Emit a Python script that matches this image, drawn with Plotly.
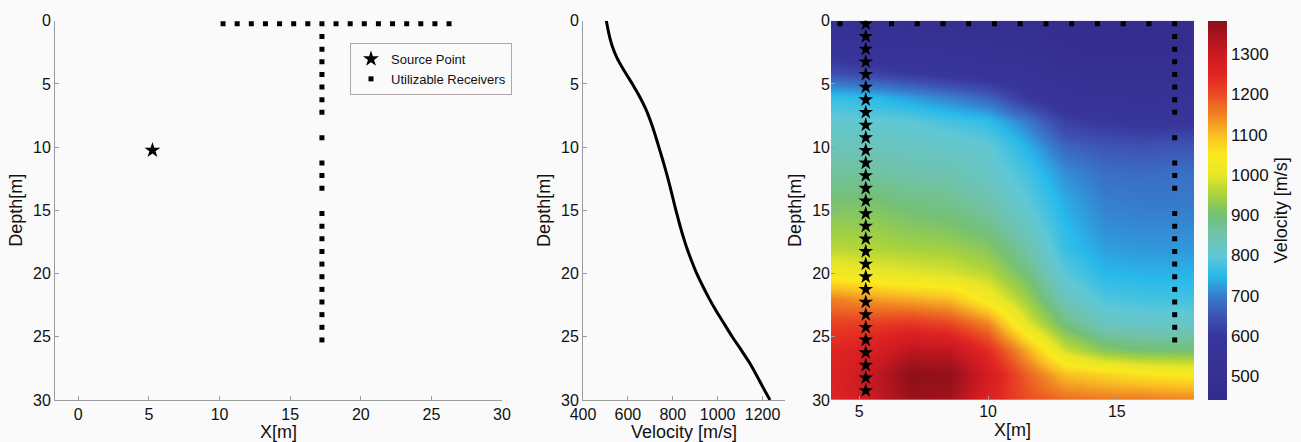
import plotly.graph_objects as go

# ---- acquisition geometry (metres) ----
source_x = [5.25]
source_depth = [10.25]

row_receiver_x = [10.25, 11.25, 12.25, 13.25, 14.25, 15.25, 16.25, 17.25, 18.25,
                  19.25, 20.25, 21.25, 22.25, 23.25, 24.25, 25.25, 26.25]
row_receiver_depth = [0.25] * len(row_receiver_x)

well_receiver_depth = [1.25, 2.25, 3.25, 4.25, 5.25, 6.25, 7.25, 9.25, 11.25, 12.25,
                       13.25, 15.25, 16.25, 17.25, 18.25, 19.25, 20.25, 21.25, 22.25,
                       23.25, 24.25, 25.25]
well_receiver_x = [17.25] * len(well_receiver_depth)

# ---- 1-D velocity profile ----
profile_depth = list(range(0, 31))
profile_velocity = [504, 515, 530, 553, 585, 620, 652, 680, 702, 721, 738, 755,
                    771, 786, 800, 814, 829, 845, 863, 884, 907, 934, 963, 995,
                    1030, 1065, 1103, 1140, 1172, 1202, 1233]

# ---- tomographic velocity model (m/s) ----
model_x = [4.0, 5.5, 7.0, 8.5, 10.0, 11.5, 13.0, 14.5, 16.0, 17.5]
model_depth = [0, 2, 4, 6, 8, 10, 12, 14, 16, 18, 20, 22, 24, 26, 28, 30]
model_velocity = [
    [520, 510, 500, 495, 490, 480, 470, 465, 460, 465],
    [560, 550, 540, 530, 515, 500, 480, 470, 470, 475],
    [640, 620, 600, 580, 560, 550, 510, 500, 495, 500],
    [760, 750, 725, 700, 670, 600, 555, 540, 535, 540],
    [810, 805, 800, 780, 760, 700, 620, 600, 590, 595],
    [835, 835, 825, 820, 805, 745, 675, 655, 650, 655],
    [865, 865, 850, 845, 820, 775, 715, 685, 680, 685],
    [900, 900, 885, 875, 845, 795, 735, 700, 695, 695],
    [930, 930, 915, 905, 880, 820, 750, 712, 708, 708],
    [965, 960, 950, 945, 920, 855, 765, 728, 722, 722],
    [1030, 1010, 1000, 990, 965, 895, 795, 750, 745, 745],
    [1150, 1130, 1115, 1100, 1030, 940, 835, 785, 775, 775],
    [1215, 1220, 1230, 1210, 1150, 1000, 890, 830, 820, 820],
    [1250, 1270, 1320, 1315, 1240, 1115, 980, 920, 900, 900],
    [1265, 1310, 1380, 1375, 1285, 1180, 1100, 1080, 1060, 1050],
    [1255, 1300, 1365, 1355, 1260, 1200, 1170, 1160, 1160, 1150],
]
velocity_min, velocity_max = 442, 1383
colorbar_ticks = [500, 600, 700, 800, 900, 1000, 1100, 1200, 1300]

# sources and receivers overlaid on the model
shot_depth = [0.25 + i for i in range(30)]
shot_x = [5.25] * len(shot_depth)
model_row_x = [4.25 + i for i in range(14)]
model_row_depth = [0.25] * len(model_row_x)

# ---- styling ----
FONT = "Liberation Sans, Arial, sans-serif"
BG = "#fafafa"
AXIS_GREY = "#9c9c9c"
TXT = "#111111"


def lin(v):
    return (v - velocity_min) / (velocity_max - velocity_min)


jet_like = [
    [0.0, "rgb(52,44,140)"],
    [lin(600), "rgb(56,54,156)"],
    [lin(650), "rgb(62,82,178)"],
    [lin(700), "rgb(55,125,205)"],
    [lin(750), "rgb(40,186,235)"],
    [lin(800), "rgb(96,200,214)"],
    [lin(850), "rgb(112,195,175)"],
    [lin(900), "rgb(116,192,118)"],
    [lin(950), "rgb(166,210,62)"],
    [lin(1000), "rgb(232,230,40)"],
    [lin(1050), "rgb(250,234,30)"],
    [lin(1100), "rgb(250,190,35)"],
    [lin(1150), "rgb(240,130,35)"],
    [lin(1200), "rgb(234,76,35)"],
    [lin(1250), "rgb(224,36,34)"],
    [lin(1300), "rgb(204,26,34)"],
    [1.0, "rgb(140,15,25)"],
]

fig = go.Figure()

# left panel: geometry
fig.add_trace(go.Scatter(
    x=source_x, y=source_depth, mode="markers", name="Source Point",
    marker=dict(symbol="star", size=12, color="black", line=dict(width=0)),
    xaxis="x", yaxis="y"))
fig.add_trace(go.Scatter(
    x=row_receiver_x + well_receiver_x, y=row_receiver_depth + well_receiver_depth,
    mode="markers", name="Utilizable Receivers",
    marker=dict(symbol="square", size=5, color="black", line=dict(width=0)),
    xaxis="x", yaxis="y"))

# middle panel: velocity profile
fig.add_trace(go.Scatter(
    x=profile_velocity, y=profile_depth, mode="lines", showlegend=False,
    line=dict(color="black", width=3, shape="spline", smoothing=0.8),
    xaxis="x2", yaxis="y2"))

# right panel: velocity model
fig.add_trace(go.Heatmap(
    x=model_x, y=model_depth, z=model_velocity, zsmooth="best",
    zmin=velocity_min, zmax=velocity_max, colorscale=jet_like,
    xaxis="x3", yaxis="y3",
    colorbar=dict(
        x=1208 / 1301, xanchor="left", xpad=0,
        y=1 - 20.7 / 442, yanchor="top", ypad=0,
        len=379.3 / 442, lenmode="fraction",
        thickness=19, thicknessmode="pixels", outlinewidth=0,
        tickvals=colorbar_ticks, ticks="",
        tickfont=dict(family=FONT, size=17, color=TXT),
        title=dict(text="Velocity [m/s]", side="right",
                   font=dict(family=FONT, size=18, color=TXT)),
    )))
fig.add_trace(go.Scatter(
    x=model_row_x + [17.25] * len(well_receiver_depth),
    y=model_row_depth + well_receiver_depth,
    mode="markers", showlegend=False,
    marker=dict(symbol="square", size=5, color="black", line=dict(width=0)),
    xaxis="x3", yaxis="y3"))
fig.add_trace(go.Scatter(
    x=shot_x, y=shot_depth, mode="markers", showlegend=False,
    marker=dict(symbol="star", size=11, color="black", line=dict(width=0)),
    xaxis="x3", yaxis="y3"))

ydom = [1 - 400 / 442, 1 - 20.7 / 442]
tick_font = dict(family=FONT, size=16, color=TXT)
title_font = dict(family=FONT, size=18, color=TXT)
depth_ticks = [0, 5, 10, 15, 20, 25, 30]


def axis(**kw):
    base = dict(showgrid=False, zeroline=False, ticks="inside", ticklen=4,
                tickcolor=AXIS_GREY, tickfont=tick_font, automargin=False)
    base.update(kw)
    return base


fig.update_layout(
    width=1301, height=442,
    margin=dict(l=0, r=0, t=0, b=0, autoexpand=False),
    paper_bgcolor=BG, plot_bgcolor=BG,
    font=dict(family=FONT, color=TXT),
    xaxis=axis(domain=[55 / 1301, 502 / 1301], range=[-1.65, 30],
               tickvals=[0, 5, 10, 15, 20, 25, 30], showline=True,
               linecolor=AXIS_GREY, linewidth=1, anchor="y",
               title=dict(text="X[m]", font=title_font, standoff=2)),
    yaxis=axis(domain=ydom, range=[30, 0], tickvals=depth_ticks,
               showline=True, linecolor=AXIS_GREY, linewidth=1, anchor="x",
               title=dict(text="Depth[m]", font=title_font, standoff=5)),
    xaxis2=axis(domain=[583 / 1301, 785 / 1301], range=[400, 1300],
                tickvals=[400, 600, 800, 1000, 1200], showline=True,
                linecolor=AXIS_GREY, linewidth=1, anchor="y2",
                title=dict(text="Velocity [m/s]", font=title_font, standoff=2)),
    yaxis2=axis(domain=ydom, range=[30, 0], tickvals=depth_ticks,
                showline=True, linecolor=AXIS_GREY, linewidth=1, anchor="x2",
                title=dict(text="Depth[m]", font=title_font, standoff=5)),
    xaxis3=axis(domain=[831 / 1301, 1194 / 1301], range=[3.9, 18],
                tickvals=[5, 10, 15], anchor="y3",
                title=dict(text="X[m]", font=title_font, standoff=2)),
    yaxis3=axis(domain=ydom, range=[30, 0], tickvals=depth_ticks,
                anchor="x3",
                title=dict(text="Depth[m]", font=title_font, standoff=5)),
    legend=dict(x=350 / 1301, xanchor="left", y=1 - 43 / 442, yanchor="top",
                bgcolor=BG, bordercolor="#b0a8a8", borderwidth=1,
                font=dict(family=FONT, size=13, color=TXT),
                itemwidth=30, tracegroupgap=0),
)

fig.write_html("out.html")
